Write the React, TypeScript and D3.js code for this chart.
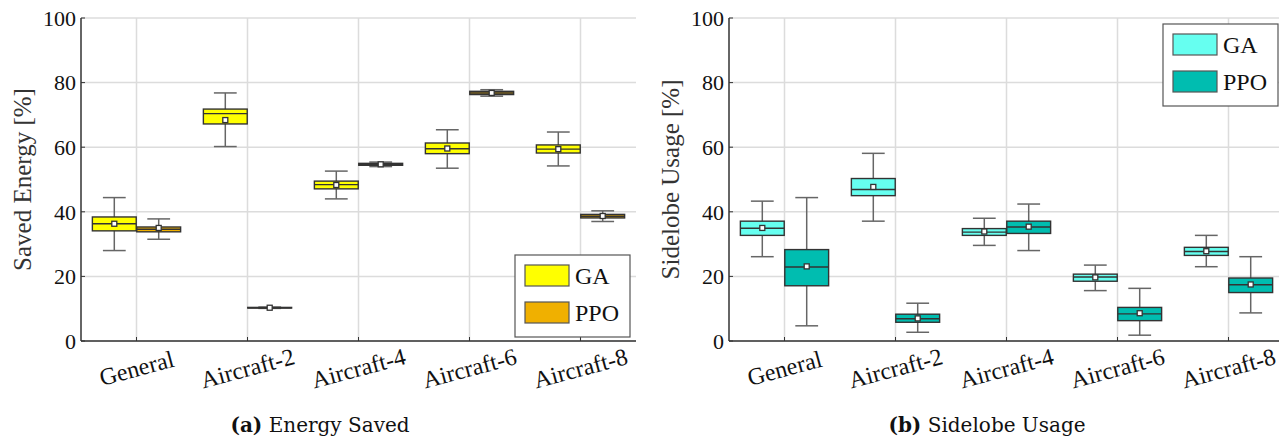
import React from "react";
import * as d3 from "d3";

// Categories shared by both panels
const categories = ["General", "Aircraft-2", "Aircraft-4", "Aircraft-6", "Aircraft-8"];
const yTicks = [0, 20, 40, 60, 80, 100];

// Box statistics: [whisker low, Q1, median, Q3, whisker high, mean]
type Stat = [number, number, number, number, number, number];

const energyGA: Stat[] = [
  [28.0, 34.1, 36.3, 38.4, 44.4, 36.3],
  [60.2, 67.2, 70.4, 71.8, 76.8, 68.4],
  [44.0, 47.1, 48.4, 49.5, 52.6, 48.3],
  [53.5, 58.0, 59.5, 61.3, 65.4, 59.6],
  [54.2, 58.2, 59.4, 60.7, 64.7, 59.4],
];
const energyPPO: Stat[] = [
  [31.5, 33.8, 34.6, 35.3, 37.8, 35.0],
  [10.1, 10.2, 10.3, 10.4, 10.5, 10.3],
  [54.0, 54.4, 54.7, 55.0, 55.4, 54.7],
  [75.8, 76.3, 76.8, 77.3, 77.8, 76.8],
  [37.0, 38.1, 38.6, 39.2, 40.3, 38.7],
];
const sidelobeGA: Stat[] = [
  [26.1, 32.7, 34.9, 37.1, 43.3, 35.0],
  [37.1, 45.0, 46.9, 50.3, 58.1, 47.7],
  [29.6, 32.7, 33.7, 34.8, 38.0, 33.9],
  [15.6, 18.5, 19.8, 20.7, 23.5, 19.7],
  [23.0, 26.5, 27.7, 29.0, 32.7, 27.8],
];
const sidelobePPO: Stat[] = [
  [4.7, 17.1, 22.9, 28.3, 44.4, 23.1],
  [2.7, 5.8, 6.9, 8.3, 11.7, 7.0],
  [28.0, 33.3, 35.3, 37.1, 42.4, 35.4],
  [1.8, 6.3, 8.4, 10.4, 16.3, 8.6],
  [8.7, 15.0, 17.4, 19.5, 26.1, 17.5],
];

const seriesNames = ["GA", "PPO"];

const TICK_FONT = "'Liberation Serif', 'Times New Roman', serif";
const CAPTION_FONT = "'DejaVu Serif', serif";

interface PanelProps {
  left: number;
  yLabel: string;
  ga: Stat[];
  ppo: Stat[];
  colors: [string, string];
  legendX: number;
  legendY: number;
  captionTag: string;
  captionText: string;
  captionX: number;
}

const TOP = 18;
const BOTTOM = 341;
const PLOT_W = 555;

function BoxGroup({ stats, x, y, offset, width, fill }: {
  stats: Stat[]; x: d3.ScaleBand<string>; y: d3.ScaleLinear<number, number>;
  offset: number; width: number; fill: string;
}) {
  return (
    <g>
      {stats.map((s, i) => {
        const cx = (x(categories[i]) as number) + x.bandwidth() / 2 + offset;
        const [lo, q1, med, q3, hi, mean] = s;
        const capW = width * 0.52;
        return (
          <g key={i}>
            <line x1={cx} x2={cx} y1={y(hi)} y2={y(lo)} stroke="#666" strokeWidth={1.5} />
            <line x1={cx - capW / 2} x2={cx + capW / 2} y1={y(hi)} y2={y(hi)} stroke="#666" strokeWidth={1.5} />
            <line x1={cx - capW / 2} x2={cx + capW / 2} y1={y(lo)} y2={y(lo)} stroke="#666" strokeWidth={1.5} />
            <rect x={cx - width / 2} y={y(q3)} width={width} height={Math.max(y(q1) - y(q3), 0.5)}
              fill={fill} stroke="#333" strokeWidth={1.4} />
            <line x1={cx - width / 2} x2={cx + width / 2} y1={y(med)} y2={y(med)} stroke="#333" strokeWidth={1.4} />
            <rect x={cx - 2.5} y={y(mean) - 2.5} width={5} height={5} fill="#fff" stroke="#333" strokeWidth={1.3} />
          </g>
        );
      })}
    </g>
  );
}

function Panel(p: PanelProps) {
  const x = d3.scaleBand<string>().domain(categories).range([p.left, p.left + PLOT_W]).padding(0);
  const y = d3.scaleLinear().domain([0, 100]).range([BOTTOM, TOP]);
  const bw = x.bandwidth();
  const boxW = bw * 0.395;
  const off = bw * 0.2;
  const right = p.left + PLOT_W;
  return (
    <g>
      {/* grid */}
      {yTicks.map((t) => (
        <line key={"gy" + t} x1={p.left} x2={right} y1={y(t)} y2={y(t)} stroke="#dcdcdc" strokeWidth={1.5} />
      ))}
      {categories.map((c) => {
        const cx = (x(c) as number) + bw / 2;
        return <line key={"gx" + c} x1={cx} x2={cx} y1={TOP} y2={BOTTOM} stroke="#dcdcdc" strokeWidth={1.5} />;
      })}
      {/* boxes */}
      <BoxGroup stats={p.ga} x={x} y={y} offset={-off} width={boxW} fill={p.colors[0]} />
      <BoxGroup stats={p.ppo} x={x} y={y} offset={off} width={boxW} fill={p.colors[1]} />
      {/* axes */}
      <line x1={p.left} x2={p.left} y1={TOP} y2={BOTTOM} stroke="#333" strokeWidth={1.5} />
      <line x1={p.left} x2={right} y1={BOTTOM} y2={BOTTOM} stroke="#333" strokeWidth={1.5} />
      {yTicks.map((t) => (
        <g key={"ty" + t}>
          <line x1={p.left} x2={p.left + 4} y1={y(t)} y2={y(t)} stroke="#333" strokeWidth={1} />
          <text x={p.left - 5} y={y(t)} dy="0.35em" textAnchor="end" fontFamily={TICK_FONT} fontSize={22} fill="#111">
            {t}
          </text>
        </g>
      ))}
      {categories.map((c) => {
        const cx = (x(c) as number) + bw / 2;
        return (
          <g key={"tx" + c}>
            <line x1={cx} x2={cx} y1={BOTTOM} y2={BOTTOM - 4} stroke="#333" strokeWidth={1} />
            <text transform={`translate(${cx},${BOTTOM + 27}) rotate(-15)`} textAnchor="middle" dy="0.35em"
              fontFamily={TICK_FONT} fontSize={24} fill="#111">
              {c}
            </text>
          </g>
        );
      })}
      <text transform={`translate(${p.left - 59},${(TOP + BOTTOM) / 2}) rotate(-90)`} textAnchor="middle" dy="0.35em"
        fontFamily={TICK_FONT} fontSize={25} fill="#333">
        {p.yLabel}
      </text>
      {/* legend */}
      <g transform={`translate(${p.legendX},${p.legendY})`}>
        <rect x={0} y={0} width={115} height={82} fill="#fff" stroke="#555" strokeWidth={1.2} />
        {seriesNames.map((n, i) => (
          <g key={n} transform={`translate(10,${10 + i * 37})`}>
            <rect x={0} y={0} width={44} height={21} fill={p.colors[i]} stroke="#555" strokeWidth={1.2} />
            <text x={50} y={11} dy="0.35em" fontFamily={TICK_FONT} fontSize={24} fill="#111">{n}</text>
          </g>
        ))}
      </g>
      {/* caption */}
      <text x={p.captionX} y={432} textAnchor="middle" fontFamily={CAPTION_FONT} fontSize={20} fill="#111">
        <tspan fontWeight="bold">{p.captionTag}</tspan>
        <tspan> {p.captionText}</tspan>
      </text>
    </g>
  );
}

export default function App() {
  return (
    <svg width={1279} height={439} style={{ position: "absolute", left: 0, top: 0, background: "#fff" }}>
      <rect width={1279} height={439} fill="#fff" />
      <Panel left={81} yLabel="Saved Energy [%]" ga={energyGA} ppo={energyPPO}
        colors={["#ffff00", "#f0b000"]} legendX={515} legendY={255}
        captionTag="(a)" captionText="Energy Saved" captionX={320} />
      <Panel left={729} yLabel="Sidelobe Usage [%]" ga={sidelobeGA} ppo={sidelobePPO}
        colors={["#66fff0", "#00bdb0"]} legendX={1163} legendY={24}
        captionTag="(b)" captionText="Sidelobe Usage" captionX={987} />
    </svg>
  );
}
